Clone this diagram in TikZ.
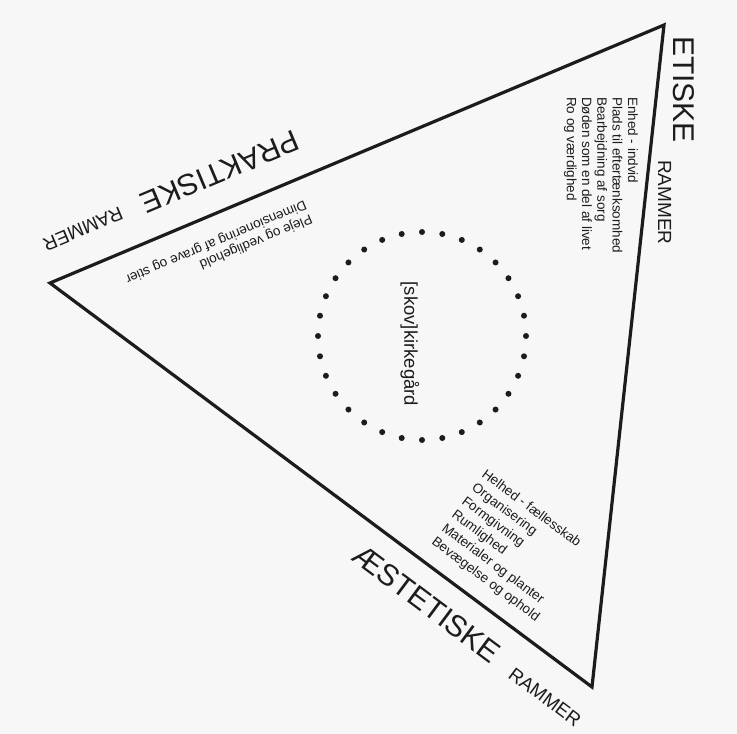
\documentclass[tikz,border=0pt]{standalone}
\usepackage{fontspec}
\setmainfont{Liberation Sans}
\definecolor{ink}{HTML}{1C1C1C}
\definecolor{paper}{HTML}{F7F7F7}
\begin{document}
\begin{tikzpicture}[x=1pt,y=-1pt,
  frame/.style={draw=ink, line width=3.2pt, line join=miter},
  dotmark/.style={fill=ink},
  bigword/.style={inner sep=0pt, text=ink, font=\fontsize{30}{36}\selectfont},
  smallword/.style={inner sep=0pt, text=ink, font=\fontsize{19}{23}\selectfont},
  listA/.style={inner sep=0pt, text=ink, align=left, font=\fontsize{13.5}{15.3}\selectfont},
  listB/.style={inner sep=0pt, text=ink, align=left, font=\fontsize{13.5}{16.8}\selectfont},
  centreword/.style={inner sep=0pt, text=ink, font=\fontsize{18.5}{22}\selectfont}]
\fill[paper] (0,0) rectangle (737,734);
\useasboundingbox (0,0) rectangle (737,734);

\coordinate (T) at (664,25);
\coordinate (L) at (50,283);
\coordinate (B) at (592,687);
\draw[frame] (T) -- (L) -- (B) -- cycle;

\coordinate (C) at (422,336);
\foreach \i in {0,...,31} \fill[dotmark] (C) ++(\i*11.25:104pt) circle (3pt);
\node[centreword, rotate=-90] (kirke) at (410,344) {[skov]kirkegård};

\node[bigword, rotate=-90, anchor=base west] (etiske) at (673,36) {ETISKE};
\node[smallword, rotate=-90, anchor=base west] (etiskeR) at (658,160) {RAMMER};
\node[listA, rotate=-90, anchor=north west] (etiskeL) at (638,97)
  {Enhed - indvid\\Plads til eftertænksomhed\\Bearbejdning af sorg\\Døden som en del af livet\\Ro og værdighed};

\node[bigword, rotate=202.8] (prakt) at (220,172) {PRAKTISKE};
\node[smallword, rotate=202.8] (praktR) at (83,229) {RAMMER};
\node[listA, rotate=202.8, anchor=north west] (praktL) at (314,224)
  {Pleje og vedligehold\\Dimensionering af grave og stier};

\node[bigword, rotate=-36.7] (aest) at (427,604) {ÆSTETISKE};
\node[smallword, rotate=-36.7] (aestR) at (545,697) {RAMMER};
\node[listB, rotate=-36.7, anchor=north west] (aestL) at (487,468)
  {Helhed - fællesskab\\Organisering\\Formgivning\\Rumlighed\\Materialer og planter\\Bevægelse og ophold};
\end{tikzpicture}
\end{document}
